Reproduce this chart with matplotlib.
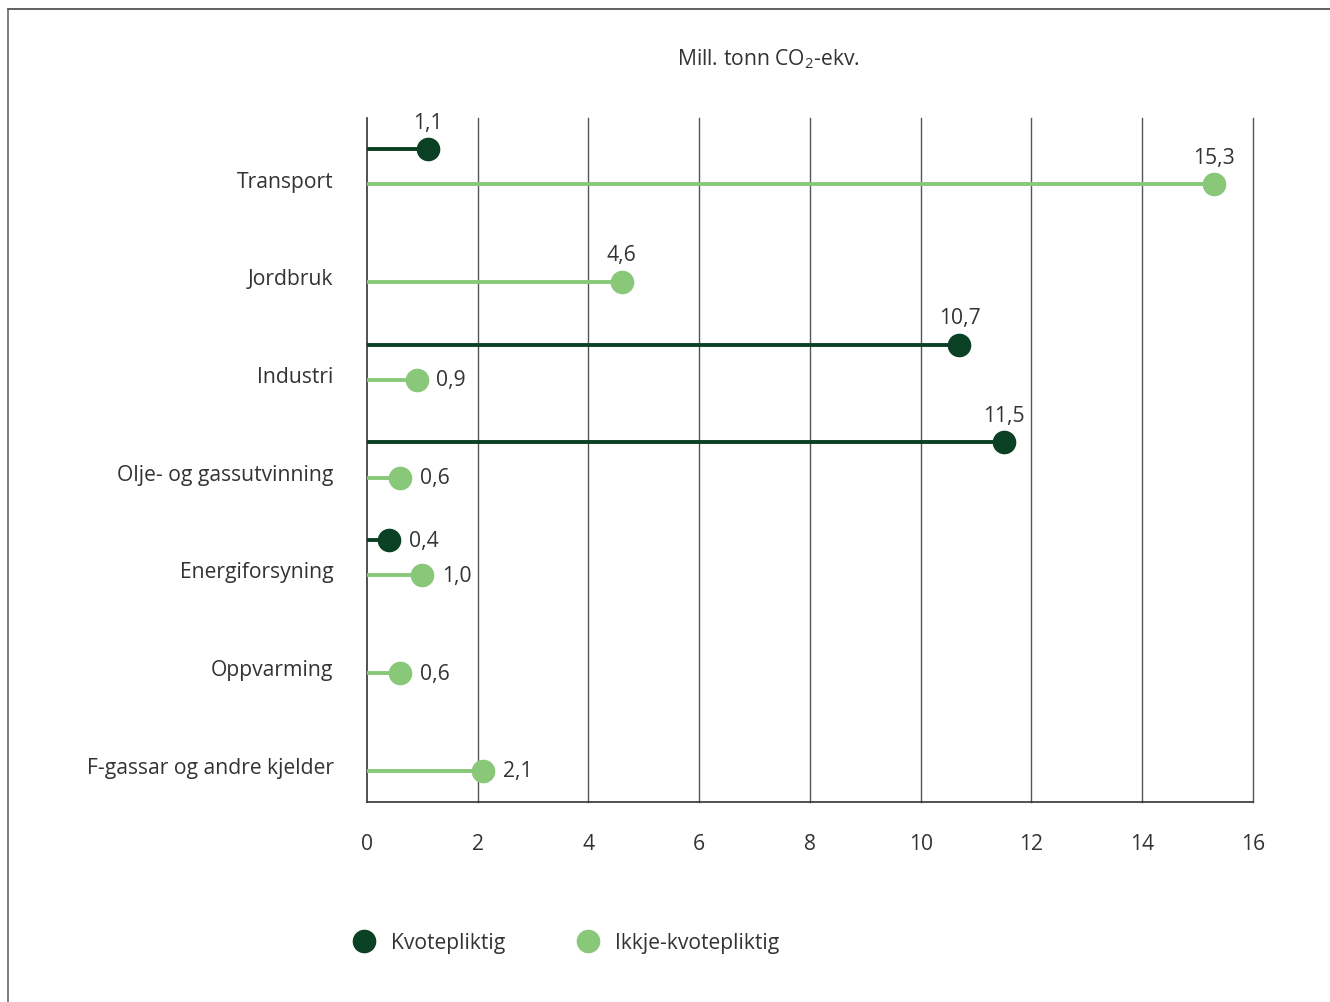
import numpy as np
import matplotlib.pyplot as plt
from matplotlib.lines import Line2D

plt.rcParams['font.family'] = ['Open Sans', 'DejaVu Sans']

# data (Mill. tonn CO2-ekv.)
sectors = ["Transport", "Jordbruk", "Industri", "Olje- og gassutvinning",
           "Energiforsyning", "Oppvarming", "F-gassar og andre kjelder"]
kvote = [1.1, np.nan, 10.7, 11.5, 0.4, np.nan, np.nan]
ikkje_kvote = [15.3, 4.6, 0.9, 0.6, 1.0, 0.6, 2.1]
# where the value label sits: 'top' above the dot, 'right' beside it
kvote_pos = ['top', None, 'top', 'top', 'right', None, None]
ikkje_pos = ['top', 'top', 'right', 'right', 'right', 'right', 'right']
x_ticks = [0, 2, 4, 6, 8, 10, 12, 14, 16]

dark = '#0a4023'
light = '#88c878'
txt = '#333333'
fs = 15.2

fig = plt.figure(figsize=(13.3, 10.03), dpi=100)
ax = fig.add_axes([0.2759, 0.1994, 0.6662, 0.6820])

off = 0.18
y = np.arange(len(sectors))

def draw(vals, pos, dy, col):
    for i, v in enumerate(vals):
        if np.isnan(v):
            continue
        yy = y[i] + dy
        ax.plot([0, v], [yy, yy], color=col, lw=2.8, solid_capstyle='butt', zorder=3)
        ax.plot(v, yy, 'o', color=col, ms=16, zorder=4)
        lab = f"{v:.1f}".replace('.', ',')
        if pos[i] == 'top':
            ax.annotate(lab, (v, yy), xytext=(0, 12), textcoords='offset points',
                        ha='center', va='bottom', fontsize=fs, color=txt)
        else:
            ax.annotate(lab, (v, yy), xytext=(14, 0), textcoords='offset points',
                        ha='left', va='center', fontsize=fs, color=txt)

draw(kvote, kvote_pos, -off, dark)
draw(ikkje_kvote, ikkje_pos, off, light)

ax.set_xlim(0, 16)
ax.set_ylim(6.5, -0.5)
ax.set_xticks(x_ticks)
ax.set_xticklabels([str(t) for t in x_ticks], fontsize=fs, color=txt)
ax.set_yticks(y + 0.12)
ax.set_yticklabels(sectors, fontsize=fs, color=txt)
ax.tick_params(axis='x', length=0, pad=22)
ax.tick_params(axis='y', length=0, pad=24)

for t in x_ticks[1:]:
    ax.axvline(t, color='#555555', lw=1.0, zorder=1, clip_on=False)
for s in ['top', 'right']:
    ax.spines[s].set_visible(False)
for s in ['left', 'bottom']:
    ax.spines[s].set_color('#333333')
    ax.spines[s].set_linewidth(1.2)

fig.text(0.578, 0.941, 'Mill. tonn CO$\\mathregular{_2}$-ekv.', ha='center', va='center',
         fontsize=fs, color=txt)

handles = [Line2D([], [], marker='o', ls='', color=dark, ms=16),
           Line2D([], [], marker='o', ls='', color=light, ms=16)]
fig.legend(handles, ['Kvotepliktig', 'Ikkje-kvotepliktig'], loc='center left',
           bbox_to_anchor=(0.2435, 0.059), ncol=2, frameon=False, fontsize=fs,
           handletextpad=0.3, columnspacing=2.9, labelcolor=txt)

# frame lines at top and left of the figure
fig.add_artist(Line2D([8 / 1330, 1], [1 - 10 / 1003, 1 - 10 / 1003], color='#444444', lw=1.2))
fig.add_artist(Line2D([8 / 1330, 8 / 1330], [0, 1 - 10 / 1003], color='#666666', lw=1.2))

fig.savefig('out.png', dpi=100)
